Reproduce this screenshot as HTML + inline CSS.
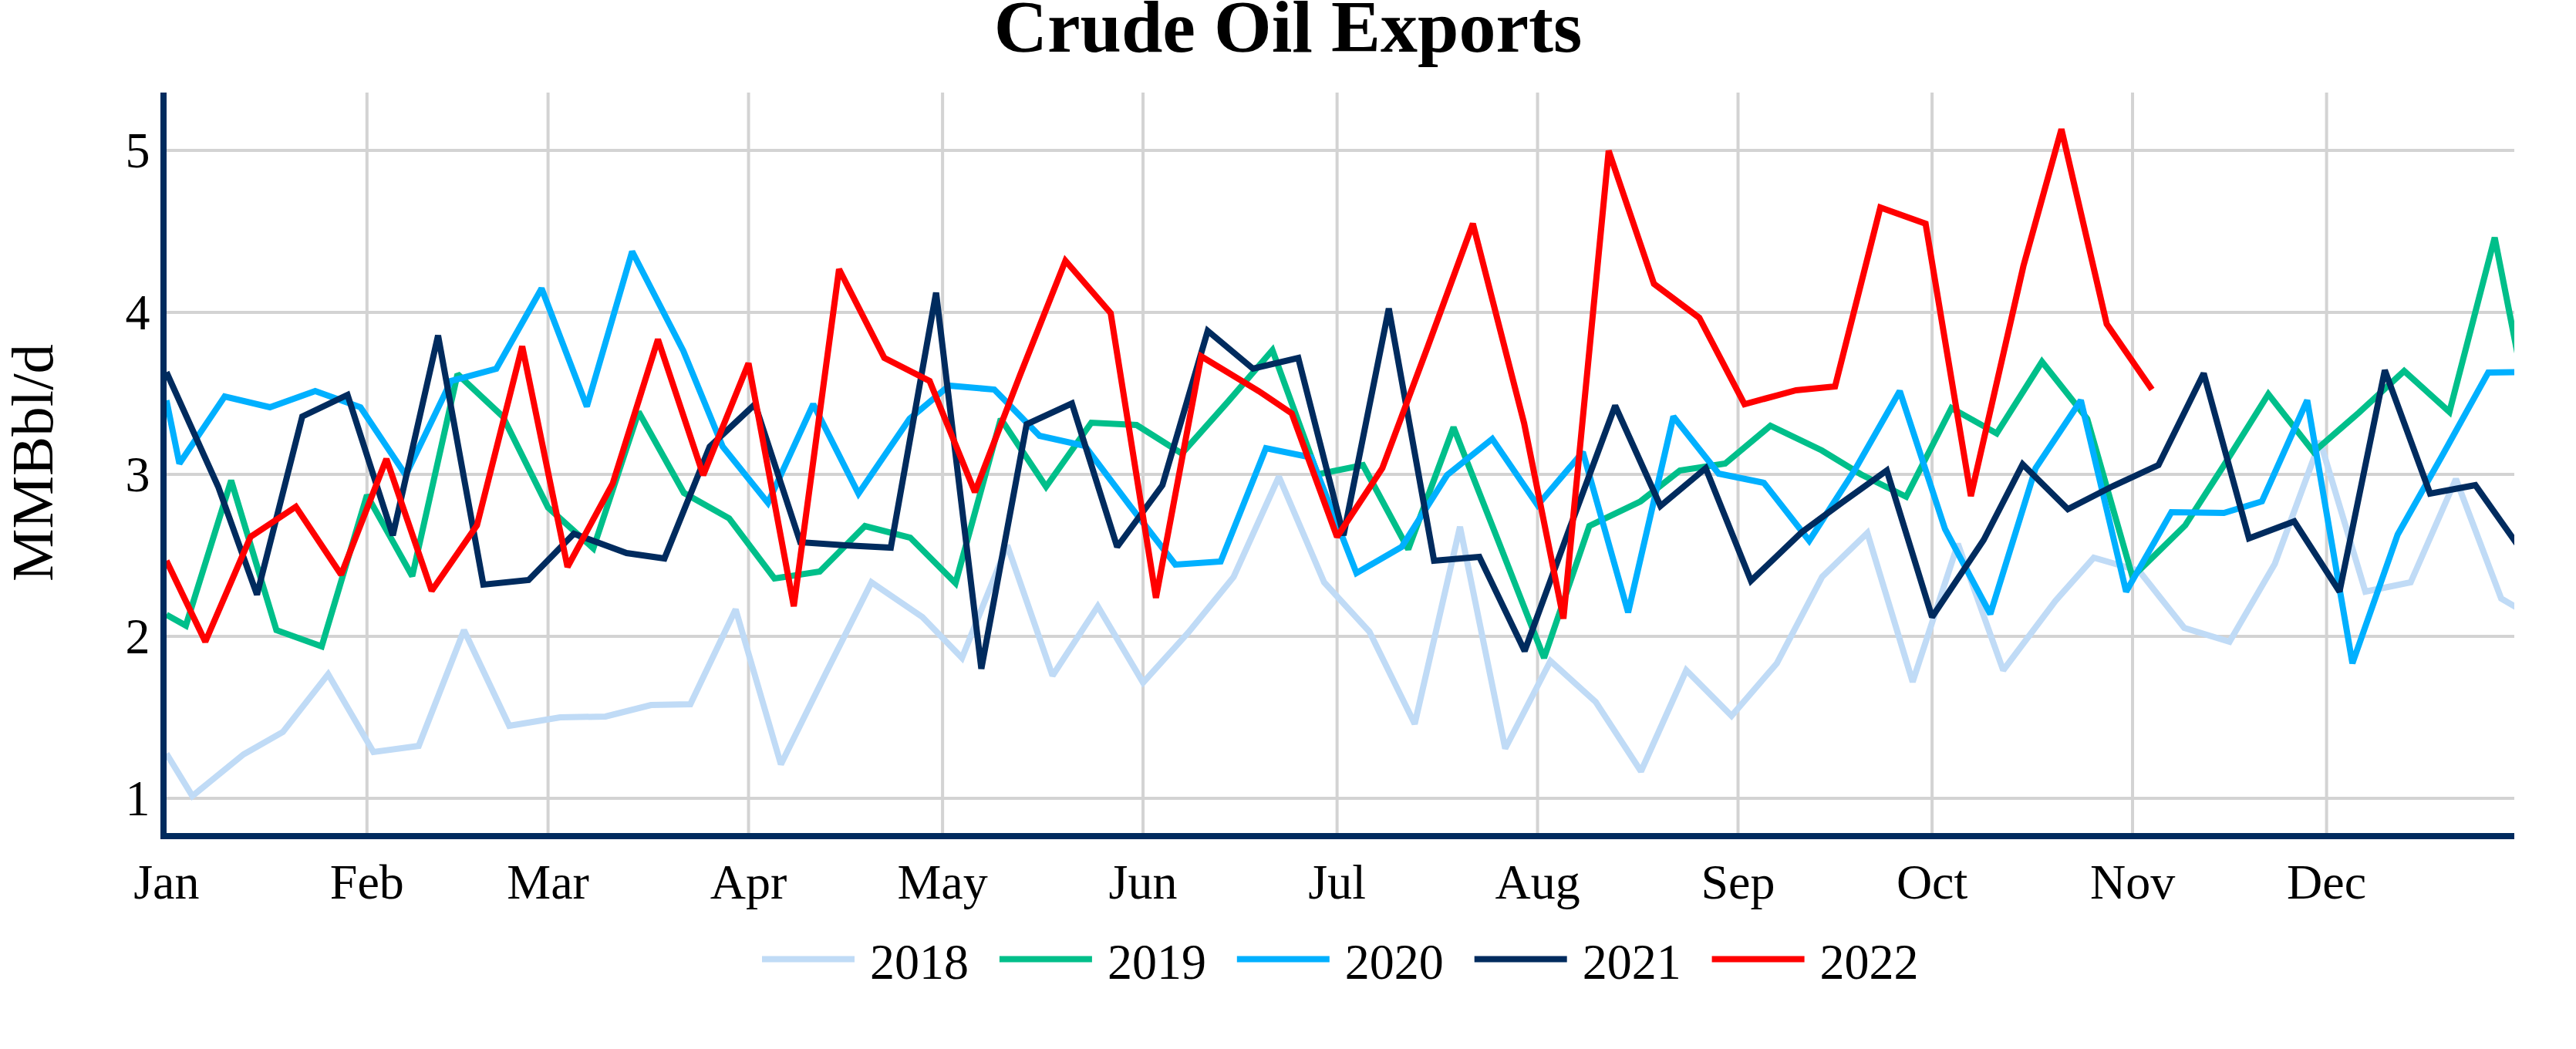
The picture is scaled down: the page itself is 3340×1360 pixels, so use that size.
<!DOCTYPE html>
<html><head><meta charset="utf-8"><title>Crude Oil Exports</title>
<style>html,body{margin:0;padding:0;background:#fff;}svg{display:block;}</style></head><body>
<svg width="3340" height="1360" viewBox="0 0 3340 1360" font-family='"Liberation Serif", "Times New Roman", serif'>
<rect x="0" y="0" width="3340" height="1360" fill="#fff"/>
<defs><clipPath id="pc"><rect x="212" y="120" width="3048" height="964"/></clipPath></defs>
<path d="M212,1035H3260M212,825H3260M212,615H3260M212,405H3260M212,195H3260M475.8,120V1084M710.59,120V1084M970.55,120V1084M1222.11,120V1084M1482.06,120V1084M1733.63,120V1084M1993.58,120V1084M2253.53,120V1084M2505.09,120V1084M2765.04,120V1084M3016.61,120V1084" stroke="#D3D3D3" stroke-width="4" fill="none"/>
<g clip-path="url(#pc)" fill="none" stroke-width="8" stroke-miterlimit="2">
<polyline points="215.8,977 249.4,1032 315.8,978 366.8,949 425.5,874 484.2,975 542.9,967 601.6,817 660.3,941 726.3,930 785.0,929 844.1,914 895.1,913 953.8,790 1012.5,991 1071.2,872 1129.9,755 1196.0,800 1247.3,853 1306.0,707 1364.7,876 1423.4,786 1482.1,885 1540.8,820 1599.5,748 1658.2,618 1716.9,755 1775.6,819 1834.3,938.5 1893.0,683 1951.6,970.5 2010.3,857 2069.0,910 2127.7,1000 2186.4,869 2245.1,928 2303.8,860 2362.5,748 2421.2,691 2479.9,884 2538.6,705 2597.3,869 2665.0,779 2714.7,723 2773.4,740 2832.1,814 2890.8,832 2949.5,731 3008.2,572 3066.9,767 3125.6,755 3184.3,621 3243.0,776 3301.7,810" stroke="#C0DBF6"/>
<polyline points="215.8,797 241.0,811 299.7,623 358.4,817 417.1,838 475.8,642 534.5,747 593.2,485 651.9,540 710.6,658 769.3,711 828.0,534 886.7,639 945.4,672 1004.1,750 1062.8,741 1121.5,682 1180.2,697 1238.9,756 1297.6,543 1356.3,631 1415.0,548 1473.7,551 1532.4,588 1591.1,522 1649.8,454 1708.5,615 1767.2,603 1825.9,712 1884.6,554 1943.3,703 2002.0,853 2060.7,682 2127.1,650 2178.1,610 2236.8,601 2295.5,552 2362.2,584 2412.9,615 2471.5,644 2530.2,529 2588.9,562 2647.6,469 2706.3,543 2765.0,748 2833.4,681 2882.4,605 2941.1,511 2999.8,586 3058.5,535 3117.2,481 3175.9,534 3234.6,308 3293.3,607" stroke="#00BF8A"/>
<polyline points="215.8,519 232.6,601 291.3,514 350.0,528 408.7,507 467.4,528 526.1,616 584.8,494 643.5,478 702.2,374 760.9,527 819.6,326 886.0,455 937.0,579 995.7,652 1054.4,524 1113.1,640 1179.3,543 1230.5,500 1289.2,505 1347.9,565 1406.6,578 1465.3,656 1524.0,732 1582.7,728 1641.4,581 1700.1,593 1758.8,743 1817.5,709 1876.2,616 1934.9,569 1993.6,655 2052.3,586 2111.0,794 2169.7,540 2228.4,614 2287.1,626 2345.8,701 2404.5,610 2463.2,507 2521.9,686 2580.6,796 2639.3,607 2698.0,519 2756.7,767 2815.4,664 2883.5,665 2932.8,650 2991.5,519 3050.1,860 3108.8,693 3167.5,589 3226.2,483 3284.9,482" stroke="#00B0FF"/>
<polyline points="215.8,482.5 282.9,631 333.2,771 391.9,540 450.6,512 509.3,694 568.0,435 626.7,758 685.4,752 744.1,692 812.4,717 861.5,724 920.2,579 978.9,524 1037.6,703 1096.3,707 1155.0,710 1213.7,379.5 1272.4,867 1331.1,550 1389.8,523 1448.5,709 1507.2,629 1565.9,429 1624.6,478 1683.3,464 1742.0,694 1800.7,400 1859.4,727 1918.1,722 1976.8,844 2035.5,684 2094.2,526 2152.9,656 2211.6,607 2270.3,753 2336.0,690 2387.7,652 2446.4,610 2505.1,800 2572.0,700 2622.5,602 2681.2,660 2739.9,630 2798.6,603 2857.3,484 2916.0,698 2974.7,676 3033.4,767 3092.1,480 3150.8,640 3209.5,629 3268.2,712" stroke="#002B5E"/>
<polyline points="215.8,727 266.2,832 324.9,696 383.6,657 442.3,745 501.0,595 559.7,766 618.4,681 677.1,449 735.8,735 794.4,627 853.1,440 911.8,616 970.5,471 1029.2,786 1087.9,349 1146.6,464 1205.3,494 1264.0,638 1322.7,486 1381.4,338 1440.1,406 1498.8,775 1557.5,462 1632.0,507 1674.9,536 1733.6,696 1792.3,607 1851.0,450 1909.7,290 1976.2,549 2027.1,802 2085.8,195.5 2144.5,368 2203.2,412 2261.9,524 2328.8,506 2379.3,501 2438.0,269 2496.7,290 2555.4,643 2623.5,345 2672.8,167.5 2731.5,420 2790.2,505" stroke="#FF0000"/>
</g>
<path d="M212,120V1088M208,1084H3260" stroke="#002B5E" stroke-width="8" fill="none"/>
<text transform="translate(194.5,1057.3) scale(1,1.04)" font-size="64" text-anchor="end">1</text>
<text transform="translate(194.5,847.3) scale(1,1.04)" font-size="64" text-anchor="end">2</text>
<text transform="translate(194.5,637.3) scale(1,1.04)" font-size="64" text-anchor="end">3</text>
<text transform="translate(194.5,427.3) scale(1,1.04)" font-size="64" text-anchor="end">4</text>
<text transform="translate(194.5,217.3) scale(1,1.04)" font-size="64" text-anchor="end">5</text>
<text x="215.85" y="1165" font-size="64" text-anchor="middle">Jan</text>
<text x="475.8" y="1165" font-size="64" text-anchor="middle">Feb</text>
<text x="710.59" y="1165" font-size="64" text-anchor="middle">Mar</text>
<text x="970.55" y="1165" font-size="64" text-anchor="middle">Apr</text>
<text x="1222.11" y="1165" font-size="64" text-anchor="middle">May</text>
<text x="1482.06" y="1165" font-size="64" text-anchor="middle">Jun</text>
<text x="1733.63" y="1165" font-size="64" text-anchor="middle">Jul</text>
<text x="1993.58" y="1165" font-size="64" text-anchor="middle">Aug</text>
<text x="2253.53" y="1165" font-size="64" text-anchor="middle">Sep</text>
<text x="2505.09" y="1165" font-size="64" text-anchor="middle">Oct</text>
<text x="2765.04" y="1165" font-size="64" text-anchor="middle">Nov</text>
<text x="3016.61" y="1165" font-size="64" text-anchor="middle">Dec</text>
<text transform="translate(68,600) rotate(-90)" font-size="77" text-anchor="middle">MMBbl/d</text>
<text x="1670" y="67" font-size="96" font-weight="bold" text-anchor="middle">Crude Oil Exports</text>
<path d="M988.0,1243.5h120" stroke="#C0DBF6" stroke-width="8"/>
<text transform="translate(1128.0,1268.8) scale(1,1.04)" font-size="64">2018</text>
<path d="M1295.9,1243.5h120" stroke="#00BF8A" stroke-width="8"/>
<text transform="translate(1435.9,1268.8) scale(1,1.04)" font-size="64">2019</text>
<path d="M1603.8,1243.5h120" stroke="#00B0FF" stroke-width="8"/>
<text transform="translate(1743.8,1268.8) scale(1,1.04)" font-size="64">2020</text>
<path d="M1911.7,1243.5h120" stroke="#002B5E" stroke-width="8"/>
<text transform="translate(2051.7,1268.8) scale(1,1.04)" font-size="64">2021</text>
<path d="M2219.6,1243.5h120" stroke="#FF0000" stroke-width="8"/>
<text transform="translate(2359.6,1268.8) scale(1,1.04)" font-size="64">2022</text>
</svg>
</body></html>
